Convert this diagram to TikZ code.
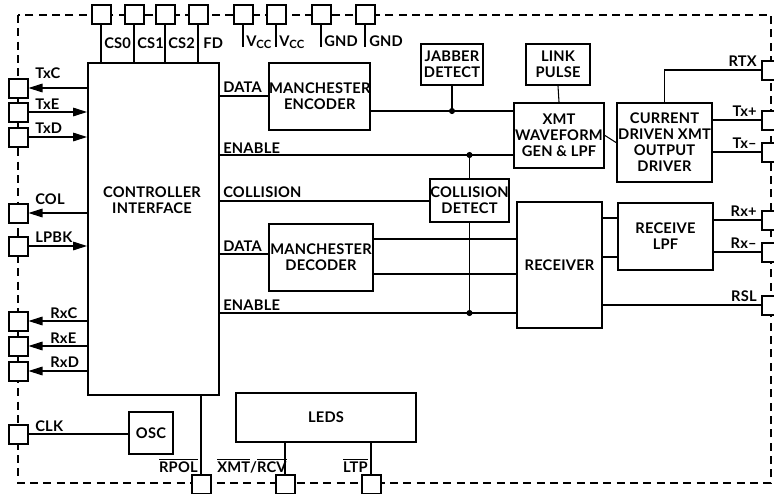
\documentclass[tikz,border=0pt]{standalone}
\usepackage{fontspec}
\setmainfont{Lato}[LetterSpace=1.5]
\usetikzlibrary{arrows.meta,calc}
\begin{document}
\begin{tikzpicture}[x=0.75pt,y=-0.75pt,
  font=\fontsize{11}{12}\selectfont\bfseries,
  sz/.style 2 args={minimum width=#1*0.75pt, minimum height=#2*0.75pt},
  blk/.style={draw, line width=1.5pt, anchor=north west, inner sep=0pt, align=center},
  pin/.style={draw, line width=1.5pt, fill=white, minimum size=19*0.75pt, inner sep=0pt},
  wire/.style={line width=0.8pt},
  arr/.style={wire, -{Triangle[length=10.5pt,width=6.5pt]}},
  lbl/.style={inner sep=0pt},
  border/.style={line width=1.5pt, dash pattern=on 6pt off 4pt}
]
\useasboundingbox (0,0) rectangle (774,493);
% border
\draw[border] (18,15) rectangle (771,483);
% blocks
\node[blk, sz={131}{332}] (ctrl) at (87,62) {};
\node[align=center] (ctrltxt) at (152,200) {CONTROLLER\\INTERFACE};
\node[blk, sz={101}{67}] (enc) at (268,62) {MANCHESTER\\ENCODER};
\node[blk, sz={62}{41}] (jab) at (420,43) {JABBER\\DETECT};
\node[blk, sz={64}{41}] (link) at (525,43) {LINK\\PULSE};
\node[blk, sz={90}{65}] (xmt) at (513,102) {XMT\\WAVEFORM\\GEN \& LPF};
\node[blk, sz={95}{79}] (cur) at (616,102) {CURRENT\\DRIVEN XMT\\OUTPUT\\DRIVER};
\node[blk, sz={79}{43}] (cd) at (429,178) {COLLISION\\DETECT};
\node[blk, sz={104}{67}] (dec) at (268,223) {MANCHESTER\\DECODER};
\node[blk, sz={85}{126}] (rcv) at (516,201) {RECEIVER};
\node[blk, sz={95}{67}] (lpf) at (617,202) {RECEIVE\\LPF};
\node[blk, sz={44}{42}] (osc) at (128,411) {OSC};
\node[blk, sz={180}{49}] (leds) at (235,392) {LEDS};
% pins top
\node[pin] (pcs0) at (101,14) {};
\node[pin] (pcs1) at (134,14) {};
\node[pin] (pcs2) at (165,14) {};
\node[pin] (pfd) at (198,14) {};
\node[pin] (pvcc1) at (243,14) {};
\node[pin] (pvcc2) at (276,14) {};
\node[pin] (pgnd1) at (321,14) {};
\node[pin] (pgnd2) at (365,14) {};
% pins left
\node[pin] (ptxc) at (18,88) {};
\node[pin] (ptxe) at (18,112) {};
\node[pin] (ptxd) at (18,137) {};
\node[pin] (pcol) at (18,213) {};
\node[pin] (plpbk) at (18,246) {};
\node[pin] (prxc) at (18,321) {};
\node[pin] (prxe) at (18,346) {};
\node[pin] (prxd) at (18,371) {};
\node[pin] (pclk) at (18,434) {};
% pins right
\node[pin] (prtx) at (771,70) {};
\node[pin] (ptxp) at (771,120) {};
\node[pin] (ptxm) at (771,152) {};
\node[pin] (prxp) at (771,220) {};
\node[pin] (prxm) at (771,252) {};
\node[pin] (prsl) at (771,305) {};
% pins bottom
\node[pin] (prpol) at (201,484) {};
\node[pin] (pxr) at (285,484) {};
\node[pin] (pltp) at (371,484) {};
% solid links between close pins
\draw[line width=1.5pt] (ptxc.south) -- (ptxe.north) (ptxe.south) -- (ptxd.north)
  (prxc.south) -- (prxe.north) (prxe.south) -- (prxd.north);
% top pin wires
\foreach \p in {pcs0,pcs1,pcs2,pfd} \draw[wire] (\p.south) -- (\p.south |- ctrl.north);
\foreach \p in {pvcc1,pvcc2,pgnd1,pgnd2} \draw[wire] (\p.south) -- ++(0,22);
% top labels
\node[lbl, anchor=base west] (lcs0) at (104,48) {CS0};
\node[lbl, anchor=base west] (lcs1) at (137,48) {CS1};
\node[lbl, anchor=base west] (lcs2) at (168,48) {CS2};
\node[lbl, anchor=base west] (lfd) at (203,48) {FD};
\node[lbl, anchor=base west] (lvcc1) at (246,46) {V\raisebox{-0.3ex}{\fontsize{8.5}{9}\selectfont CC}};
\node[lbl, anchor=base west] (lvcc2) at (279,46) {V\raisebox{-0.3ex}{\fontsize{8.5}{9}\selectfont CC}};
\node[lbl, anchor=base west] (lgnd1) at (324,46) {GND};
\node[lbl, anchor=base west] (lgnd2) at (369,46) {GND};
% left arrows
\draw[arr] (ctrl.west |- ptxc) -- (ptxc.east);
\draw[arr] (ptxe.east) -- (ctrl.west |- ptxe);
\draw[arr] (ptxd.east) -- (ctrl.west |- ptxd);
\draw[arr] (ctrl.west |- pcol) -- (pcol.east);
\draw[arr] (plpbk.east) -- (ctrl.west |- plpbk);
\draw[arr] (ctrl.west |- prxc) -- (prxc.east);
\draw[arr] (ctrl.west |- prxe) -- (prxe.east);
\draw[arr] (ctrl.west |- prxd) -- (prxd.east);
\draw[wire] (pclk.east) -- (osc.west |- pclk);
% left labels
\node[lbl, anchor=base west] (ltxc) at (35,78) {TxC};
\node[lbl, anchor=base west] (ltxe) at (35,109) {TxE};
\node[lbl, anchor=base west] (ltxd) at (35,133) {TxD};
\node[lbl, anchor=base west] (lcol) at (35,204) {COL};
\node[lbl, anchor=base west] (llpbk) at (35,242) {LPBK};
\node[lbl, anchor=base west] (lrxc) at (50,318) {RxC};
\node[lbl, anchor=base west] (lrxe) at (50,343) {RxE};
\node[lbl, anchor=base west] (lrxd) at (50,367) {RxD};
\node[lbl, anchor=base west] (lclk) at (35,431) {CLK};
% internal wires
\draw[wire] (ctrl.east |- 0,96) -- (enc.west |- 0,96);
\coordinate (j1) at (jab.south |- 0,111);
\coordinate (e1) at (cd.north |- 0,155);
\coordinate (e2) at (cd.south |- 0,313);
\draw[wire] (enc.east |- 0,111) -- (xmt.west |- 0,111);
\draw[wire] (jab.south) -- (j1);
\draw[wire] (ctrl.east |- 0,155) -- (xmt.west |- 0,155);
\draw[wire] (cd.north) -- (e1);
\draw[wire] (ctrl.east |- 0,201) -- (cd.west |- 0,201);
\draw[wire] (ctrl.east |- 0,254) -- (dec.west |- 0,254);
\draw[wire] (dec.east |- 0,239) -- (rcv.west |- 0,239);
\draw[wire] (dec.east |- 0,274) -- (rcv.west |- 0,274);
\draw[wire] (ctrl.east |- 0,313) -- (rcv.west |- 0,313);
\draw[wire] (cd.south) -- (e2);
\fill (j1) circle[radius=2.3pt] (e1) circle[radius=2.3pt] (e2) circle[radius=2.3pt];
\draw[wire] (link.south) -- (xmt.north);
\draw[wire] (xmt.east) -- (cur.west);
\draw[wire] (cur.north) |- (prtx.west);
\draw[wire] (cur.east |- ptxp) -- (ptxp.west);
\draw[wire] (cur.east |- ptxm) -- (ptxm.west);
\draw[wire] (rcv.east |- 0,218) -- (lpf.west |- 0,218);
\draw[wire] (rcv.east |- 0,257) -- (lpf.west |- 0,257);
\draw[wire] (lpf.east |- prxp) -- (prxp.west);
\draw[wire] (lpf.east |- prxm) -- (prxm.west);
\draw[wire] (rcv.east |- prsl) -- (prsl.west);
% internal labels
\node[lbl, anchor=base west] (ldata1) at (223,92) {DATA};
\node[lbl, anchor=base west] (len1) at (223,153) {ENABLE};
\node[lbl, anchor=base west] (lcoll) at (223,197) {COLLISION};
\node[lbl, anchor=base west] (ldata2) at (223,251) {DATA};
\node[lbl, anchor=base west] (len2) at (223,310) {ENABLE};
% right labels
\node[lbl, anchor=base east] (lrtx) at (757,66) {RTX};
\node[lbl, anchor=base east] (ltxp) at (757,116) {Tx+};
\node[lbl, anchor=base east] (ltxm) at (757,148) {Tx–};
\node[lbl, anchor=base east] (lrxp) at (757,216) {Rx+};
\node[lbl, anchor=base east] (lrxm) at (757,248) {Rx–};
\node[lbl, anchor=base east] (lrsl) at (757,301) {RSL};
% bottom wires and labels
\draw[wire] (ctrl.south -| prpol) -- (prpol.north);
\draw[wire] (leds.south -| pxr) -- (pxr.north);
\draw[wire] (leds.south -| pltp) -- (pltp.north);
\node[lbl, anchor=base east] (lrpol) at (198,472) {$\overline{\hbox{RPOL}}$};
\node[lbl, anchor=base west] (lxr) at (217,472) {$\overline{\hbox{XMT}}$/$\overline{\hbox{RCV}}$};
\node[lbl, anchor=base east] (lltp) at (368,472) {$\overline{\hbox{LTP}}$};
\end{tikzpicture}
\end{document}
